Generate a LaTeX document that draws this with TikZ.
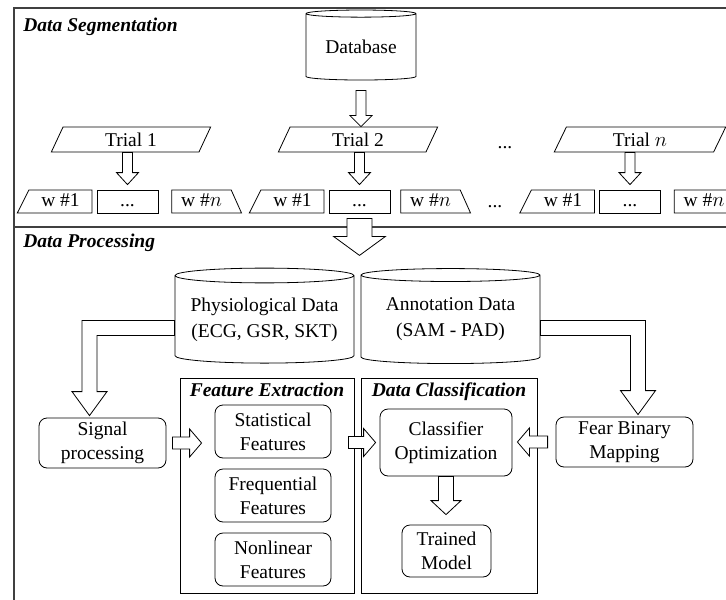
\documentclass[tikz,border=0pt]{standalone}
\usepackage{fontspec}
\setmainfont{Liberation Serif}
\usetikzlibrary{shapes.geometric,calc}

% hollow block arrows: from, to, shaft half width, head half width, head length
\newcommand{\fatdown}[5]{%
  \draw[fill=white] let \p1=(#1), \p2=(#2) in
    (\x1-#3,\y1) -- (\x1-#3,\y2+#5) -- (\x1-#4,\y2+#5) -- (\x1,\y2)
    -- (\x1+#4,\y2+#5) -- (\x1+#3,\y2+#5) -- (\x1+#3,\y1) -- cycle;}
\newcommand{\fatright}[5]{%
  \draw[fill=white] let \p1=(#1), \p2=(#2) in
    (\x1,\y1+#3) -- (\x2-#5,\y1+#3) -- (\x2-#5,\y1+#4) -- (\x2,\y1)
    -- (\x2-#5,\y1-#4) -- (\x2-#5,\y1-#3) -- (\x1,\y1-#3) -- cycle;}
\newcommand{\fatleft}[5]{%
  \draw[fill=white] let \p1=(#1), \p2=(#2) in
    (\x1,\y1+#3) -- (\x2+#5,\y1+#3) -- (\x2+#5,\y1+#4) -- (\x2,\y1)
    -- (\x2+#5,\y1-#4) -- (\x2+#5,\y1-#3) -- (\x1,\y1-#3) -- cycle;}
% elbow: horizontal from #1, then down to #2; #6 = 1 (right) or -1 (left)
\newcommand{\fatelbow}[6]{%
  \draw[fill=white] let \p1=(#1), \p2=(#2) in
    (\x1,\y1+#3) -- ({\x2+#6*#3},{\y1+#3}) -- ({\x2+#6*#3},{\y2+#5})
    -- ({\x2+#6*#4},{\y2+#5}) -- (\x2,\y2) -- ({\x2-#6*#4},{\y2+#5})
    -- ({\x2-#6*#3},{\y2+#5}) -- ({\x2-#6*#3},{\y1-#3}) -- (\x1,\y1-#3) -- cycle;}

\begin{document}
\begin{tikzpicture}[x=1pt,y=-1pt,node distance=74pt,line width=0.8pt,
                    font=\fontsize{19.5}{24}\selectfont]
  \tikzstyle{title}=[font=\fontsize{19.5}{24}\selectfont\bfseries\itshape,inner sep=0]
  \tikzstyle{frame}=[draw=black!75,line width=1.2pt]
  \tikzstyle{db}=[cylinder,shape border rotate=90,draw,aspect=0.1,align=center,
                  inner sep=0,font=\fontsize{19.5}{26}\selectfont]
  \tikzstyle{trial}=[trapezium,trapezium left angle=72,trapezium right angle=108,
                     trapezium stretches=true,draw,minimum height=25pt,
                     minimum width=160pt,inner sep=0]
  \tikzstyle{win}=[draw,minimum height=23pt,inner sep=0,text height=13.5pt,
                   text depth=4pt]
  \tikzstyle{wfirst}=[win,trapezium,trapezium left angle=68,trapezium right angle=90,
                      trapezium stretches=true,minimum width=75pt]
  \tikzstyle{wlast}=[win,trapezium,trapezium left angle=90,trapezium right angle=68,
                     trapezium stretches=true,minimum width=70pt]
  \tikzstyle{wdots}=[win,rectangle,minimum width=61pt]
  \tikzstyle{proc}=[draw,rounded corners=8pt,align=center,inner sep=0]
  \tikzstyle{panel}=[draw,minimum height=215pt,inner sep=0]

  \useasboundingbox (0,0) rectangle (726,600);
  \clip (0,0) rectangle (726,600);

  % frames
  \draw[frame] (14,8) rectangle (740,620);
  \draw[frame] (14,227) -- (740,227);
  \node[title,anchor=west] (segt) at (23,27) {Data Segmentation};
  \node[title,anchor=west] (proct) at (23,243) {Data Processing};

  % segmentation
  \node[db,minimum width=110pt,minimum height=70pt] (base) at (361,47) {Database};
  \node[trial] (tr1) at (131,139.5) {Trial 1};
  \node[trial] (tr2) at (358,139.5) {Trial 2};
  \node[trial,minimum width=172pt] (trn) at (640,139.5) {Trial $n$};
  \node[anchor=base] (trdots) at (505,148) {...};

  \node[wdots] (w12) at (127.5,201.5) {...};
  \node[wfirst,node distance=67pt] (w11) [left of=w12] {w \#1};
  \node[wlast] (w1n) [right of=w12] {w \#$n$};
  \node[wdots] (w22) at (359.5,201.5) {...};
  \node[wfirst,node distance=67pt] (w21) [left of=w22] {w \#1};
  \node[wlast,node distance=71pt] (w2n) [right of=w22] {w \#$n$};
  \node[wdots] (w32) at (630,201.5) {...};
  \node[wfirst,node distance=67pt] (w31) [left of=w32] {w \#1};
  \node[wlast] (w3n) [right of=w32] {w \#$n$};
  \node[anchor=base] (wdots) at (495,207) {...};

  \fatdown{[yshift=-10pt]base.south}{tr2.north}{5pt}{11pt}{11pt}
  \fatdown{tr1.south -| w12.north}{[yshift=5pt]w12.north}{5pt}{11pt}{12pt}
  \fatdown{tr2.south -| w22.north}{[yshift=5pt]w22.north}{5pt}{11pt}{12pt}
  \fatdown{trn.south -| w32.north}{[yshift=5pt]w32.north}{5pt}{11pt}{12pt}

  % processing
  \node[db,minimum width=179pt,minimum height=95pt] (phys) at (264.5,319.5)
    {Physiological Data\\(ECG, GSR, SKT)};
  \node[db,minimum width=179pt,minimum height=95pt] (anno) at (450.5,319.5)
    {Annotation Data\\(SAM - PAD)};
  \fatdown{[yshift=-5pt]w22.south}{[yshift=-42pt]w22.south}{12.5pt}{26pt}{19pt}

  \node[panel,minimum width=174pt] (fe) at (267,485.5) {};
  \node[panel,minimum width=176pt] (dc) at (449,485.5) {};
  \node[title,anchor=north] (fet) at ([yshift=-5pt]fe.north) {Feature Extraction};
  \node[title,anchor=north] (dct) at ([yshift=-5pt]dc.north) {Data Classification};

  \node[proc,minimum width=127pt,minimum height=50pt] (sig) at (102.5,443)
    {Signal\\processing};
  \node[proc,minimum width=116pt,minimum height=53pt] (stat) at (273,431.5)
    {Statistical\\Features};
  \node[proc,minimum width=116pt,minimum height=53pt,node distance=64pt] (freq)
    [below of=stat] {Frequential\\Features};
  \node[proc,minimum width=116pt,minimum height=53pt,node distance=64pt] (nonl)
    [below of=freq] {Nonlinear\\Features};
  \node[proc,minimum width=132pt,minimum height=67pt] (clf) at (446,442.5)
    {Classifier\\Optimization};
  \node[proc,minimum width=89pt,minimum height=52pt] (model) at (446.5,551)
    {Trained\\Model};
  \node[proc,minimum width=137pt,minimum height=50pt] (fear) at (624.5,442)
    {Fear Binary\\Mapping};

  \fatelbow{[yshift=-8.5pt]phys.west}{[xshift=-13pt,yshift=2pt]sig.north}{7.5pt}{17.5pt}{24pt}{-1}
  \fatelbow{[yshift=-8.5pt]anno.east}{[xshift=13.5pt,yshift=2pt]fear.north}{7.5pt}{17.5pt}{24pt}{1}
  \fatright{[xshift=6pt]sig.east}{[xshift=-13pt]stat.west}{6pt}{14pt}{12pt}
  \fatright{[xshift=-6pt]fe.east |- clf.west}{[xshift=-4pt]clf.west}{6pt}{14pt}{12pt}
  \fatleft{[xshift=-8pt]fear.west}{[xshift=5pt]clf.east}{6pt}{14pt}{12pt}
  \fatdown{clf.south}{[yshift=10pt]model.north}{7.5pt}{15pt}{14pt}
\end{tikzpicture}
\end{document}
